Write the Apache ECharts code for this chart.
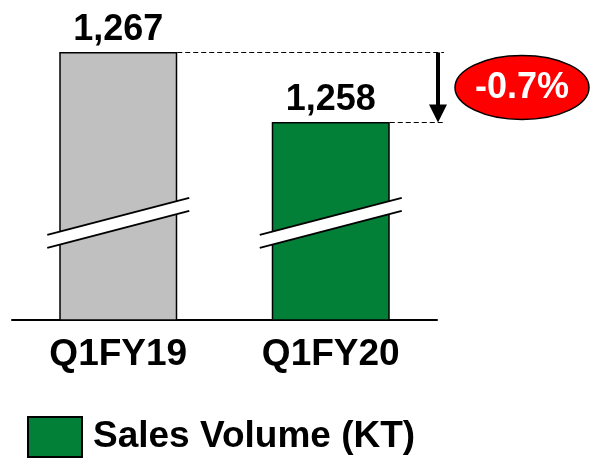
<!DOCTYPE html>
<html>
<head>
<meta charset="utf-8">
<title>Sales Volume</title>
<script src="https://cdn.jsdelivr.net/npm/echarts@6/dist/echarts.min.js"></script>
<style>
  html, body { margin: 0; padding: 0; background: #fff; }
  #chart { width: 590px; height: 459px; }
</style>
</head>
<body>
<div id="chart"></div>
<script>
// data
const categories = ['Q1FY19', 'Q1FY20']
const salesVolume = [1267, 1258]
const changeLabel = '-0.7%'
const seriesName = 'Sales Volume (KT)'
// axis is broken: the visible scale starts well above zero
const axisMin = 1232.5
const axisMax = 1267
const breakAt = 1245

const FONT = '"Liberation Sans", Arial, sans-serif'
const GREY = '#c0c0c0'
const GREEN = '#038037'

const chart = echarts.init(document.getElementById('chart'))

const option = {
  animation: false,
  grid: { left: 12, right: 153, top: 52, bottom: 139 },
  xAxis: {
    type: 'category',
    data: categories,
    axisLine: { lineStyle: { color: '#000', width: 2 } },
    axisTick: { show: false },
    axisLabel: {
      color: '#000',
      fontFamily: FONT,
      fontWeight: 'bold',
      fontSize: 37,
      margin: 16
    }
  },
  yAxis: {
    type: 'value',
    min: axisMin,
    max: axisMax,
    show: false,
    splitLine: { show: false }
  },
  legend: {
    left: 27,
    top: 416,
    padding: 0,
    icon: 'rect',
    itemWidth: 54,
    itemHeight: 40,
    data: [seriesName],
    textStyle: {
      color: '#000',
      fontFamily: FONT,
      fontWeight: 'bold',
      fontSize: 37,
      padding: [0, 0, 0, 6]
    }
  },
  series: [{
    name: seriesName,
    type: 'bar',
    barWidth: 118,
    data: salesVolume.map((v, i) => ({
      value: v,
      itemStyle: { color: i === 0 ? GREY : GREEN }
    })),
    itemStyle: { color: GREEN, borderColor: '#000', borderWidth: 1.5 },
    label: {
      show: true,
      position: 'top',
      distance: 4,
      color: '#000',
      fontFamily: FONT,
      fontWeight: 'bold',
      fontSize: 36,
      formatter: p => p.value.toLocaleString('en-US')
    }
  }]
}

chart.setOption(option)

// annotations: breaks, dashed guides, arrow and change bubble
function drawAnnotations() {
  const yTop = Math.round(chart.convertToPixel({ yAxisIndex: 0 }, salesVolume[0])) + 0.5
  const yLow = Math.round(chart.convertToPixel({ yAxisIndex: 0 }, salesVolume[1])) + 0.5
  const yBreak = chart.convertToPixel({ yAxisIndex: 0 }, breakAt)
  const x0 = chart.convertToPixel({ xAxisIndex: 0 }, categories[0])
  const x1 = chart.convertToPixel({ xAxisIndex: 0 }, categories[1])
  const half = 59
  const arrowX = 438
  const elements = []

  // break marks
  ;[x0, x1].forEach(cx => {
    const dx = 71, rise = 18.5, gap = 6.5
    const ul = [cx - dx, yBreak - gap + rise], ur = [cx + dx, yBreak - gap - rise]
    const ll = [cx - dx, yBreak + gap + rise], lr = [cx + dx, yBreak + gap - rise]
    elements.push({
      type: 'polygon',
      shape: { points: [ul, ur, lr, ll] },
      style: { fill: '#fff' },
      z: 10
    })
    elements.push({ type: 'line', shape: { x1: ul[0], y1: ul[1], x2: ur[0], y2: ur[1] }, style: { stroke: '#000', lineWidth: 2 }, z: 11 })
    elements.push({ type: 'line', shape: { x1: ll[0], y1: ll[1], x2: lr[0], y2: lr[1] }, style: { stroke: '#000', lineWidth: 2 }, z: 11 })
  })

  // dashed guide lines
  elements.push({ type: 'line', shape: { x1: x0 + half, y1: yTop, x2: arrowX + 6, y2: yTop }, style: { stroke: '#000', lineWidth: 1, lineDash: [5, 3] }, z: 10 })
  elements.push({ type: 'line', shape: { x1: x1 + half, y1: yLow, x2: arrowX + 5, y2: yLow }, style: { stroke: '#000', lineWidth: 1, lineDash: [5, 3] }, z: 10 })

  // arrow
  elements.push({ type: 'line', shape: { x1: arrowX, y1: yTop, x2: arrowX, y2: yLow - 14 }, style: { stroke: '#000', lineWidth: 4 }, z: 10 })
  elements.push({
    type: 'polygon',
    shape: { points: [[arrowX - 9, yLow - 18], [arrowX + 9, yLow - 18], [arrowX, yLow]] },
    style: { fill: '#000' },
    z: 10
  })

  // change bubble
  const cy = (yTop + yLow) / 2
  elements.push({
    type: 'ellipse',
    shape: { cx: arrowX + 84, cy: cy, rx: 67, ry: 32 },
    style: { fill: '#ff0000', stroke: '#000', lineWidth: 1.5 },
    z: 10
  })
  elements.push({
    type: 'text',
    x: arrowX + 84,
    y: cy + 1,
    style: {
      text: changeLabel,
      fill: '#fff',
      font: 'bold 36px ' + FONT,
      align: 'center',
      verticalAlign: 'middle'
    },
    z: 11
  })

  chart.setOption({ graphic: { elements: elements } })
}

drawAnnotations()
</script>
</body>
</html>
